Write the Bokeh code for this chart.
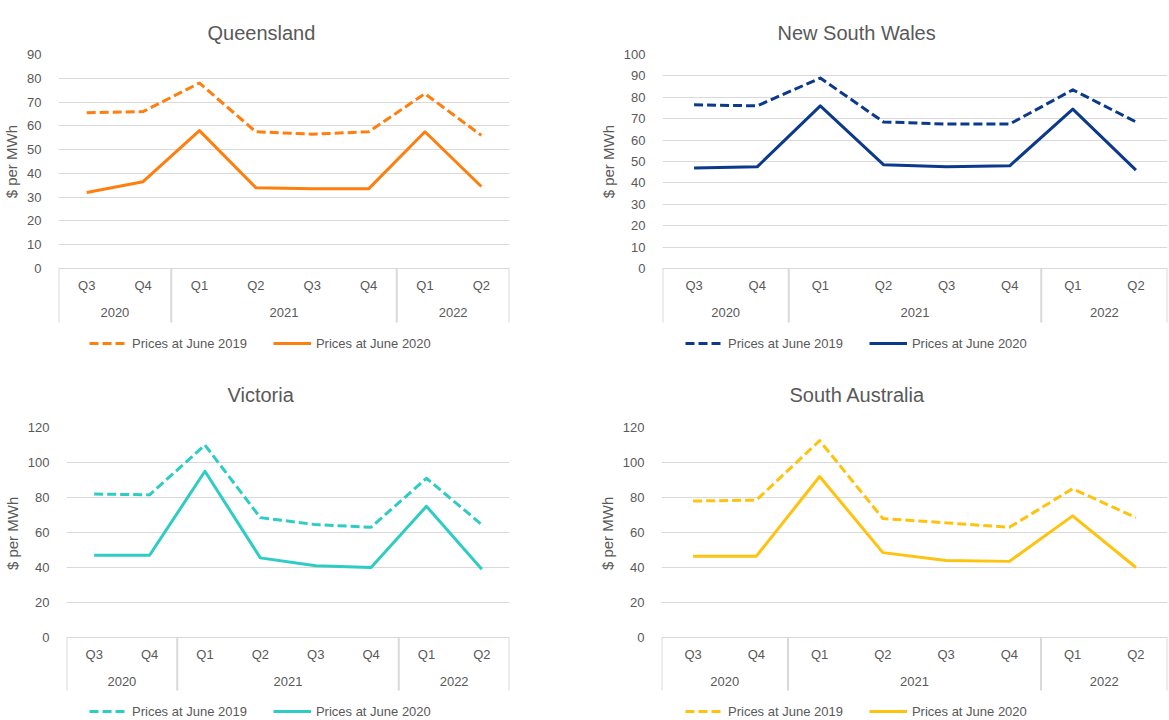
from bokeh.plotting import figure
from bokeh.models import Range1d, FixedTicker, Legend, LegendItem, ColumnDataSource
from bokeh.core.properties import value
from bokeh.layouts import column, row
from bokeh.embed import file_html
from bokeh.resources import INLINE

# ---- data ----
years = ["2020", "2020", "2021", "2021", "2021", "2021", "2022", "2022"]
quarters = ["Q3", "Q4", "Q1", "Q2", "Q3", "Q4", "Q1", "Q2"]

qld_2019 = [65.5, 66, 78, 57.5, 56.5, 57.5, 73.5, 56]
qld_2020 = [32, 36.5, 58, 34, 33.5, 33.5, 57.5, 34.5]
nsw_2019 = [76.5, 76, 89, 68.5, 67.5, 67.5, 83.5, 68.5]
nsw_2020 = [47, 47.5, 76, 48.5, 47.5, 48, 74.5, 46]
vic_2019 = [82, 81.5, 110, 68.5, 64.5, 63, 91, 64.5]
vic_2020 = [47, 47, 95, 45.5, 41, 40, 75, 39]
sa_2019 = [78, 78.5, 112.5, 68, 65.5, 63, 85, 68.5]
sa_2020 = [46.5, 46.5, 92, 48.5, 44, 43.5, 69.5, 40]

series_labels = ["Prices at June 2019", "Prices at June 2020"]
y_title = "$ per MWh"

FONT = "Liberation Sans"
TXT = "#595959"
GRID = "#d9d9d9"
NBSP_W = 0.278 * 15  # width of a no-break space at 15px


def make_panel(title, s19, s20, color, ymax, step, W, H, bl, br, bt,
               zero_px, q_px, yr_px, sep_px, leg_x, leg_y, title_off, title_so):
    n = len(quarters)
    frame_h = H - bt
    u = ymax / (frame_h - zero_px)      # data units per pixel (y)
    xs = [i + 0.5 for i in range(n)]

    # year groups from the data
    groups = []
    for i, y in enumerate(years):
        if groups and groups[-1][0] == y:
            groups[-1][1].append(i)
        else:
            groups.append([y, [i]])
    yr_x = [(g[1][0] + g[1][-1] + 1) / 2 for g in groups]
    bounds = [g[1][0] for g in groups] + [n]

    p = figure(width=W, height=H, x_range=Range1d(0, n),
               y_range=Range1d(-zero_px * u, ymax),
               min_border_left=bl, min_border_right=br,
               min_border_top=bt, min_border_bottom=0,
               x_axis_location=None, output_backend="svg",
               toolbar_location=None, title=title)
    p.outline_line_color = None
    p.title.align = "left"
    p.title.offset = title_off
    p.title.vertical_align = "top"
    p.title.standoff = title_so
    p.title.text_font = FONT
    p.title.text_font_size = "20px"
    p.title.text_font_style = "normal"
    p.title.text_color = TXT

    ticks = list(range(0, ymax + 1, step))
    ya = p.yaxis[0]
    ya.ticker = FixedTicker(ticks=ticks)
    ya.axis_line_color = None
    ya.major_tick_line_color = None
    ya.minor_tick_line_color = None
    ya.major_label_text_font = FONT
    ya.major_label_text_font_size = "13px"
    ya.major_label_text_color = TXT
    ya.major_label_standoff = 11
    # axis title, kept centred on the 0..max part of the frame
    pad = "\u00a0" * round(zero_px / NBSP_W)
    ya.axis_label = pad + y_title
    ya.axis_label_text_font = FONT
    ya.axis_label_text_font_size = "15px"
    ya.axis_label_text_font_style = "normal"
    ya.axis_label_text_color = TXT
    ya.axis_label_standoff = 4

    p.xgrid.grid_line_color = None
    p.ygrid.grid_line_color = GRID
    p.ygrid.grid_line_width = 1

    # category separators and labels
    p.segment(x0=bounds, y0=[0] * len(bounds), x1=bounds,
              y1=[-sep_px * u] * len(bounds), line_color=GRID, line_width=2)
    p.text(x=xs, y=[-q_px * u] * n, text=quarters, text_font=value(FONT),
           text_font_size="13px", text_color=TXT, text_align="center",
           text_baseline="middle")
    p.text(x=yr_x, y=[-yr_px * u] * len(yr_x), text=[g[0] for g in groups],
           text_font=value(FONT), text_font_size="13px", text_color=TXT,
           text_align="center", text_baseline="middle")

    src = ColumnDataSource(dict(x=xs, a=s19, b=s20))
    r1 = p.line(x="x", y="a", source=src, line_color=color, line_width=3,
                line_dash="9 4", line_join="round")
    r2 = p.line(x="x", y="b", source=src, line_color=color, line_width=3,
                line_join="round")

    legend = Legend(items=[LegendItem(label=series_labels[0], renderers=[r1]),
                           LegendItem(label=series_labels[1], renderers=[r2])],
                    orientation="horizontal", location=(leg_x, leg_y),
                    border_line_color=None, background_fill_alpha=0,
                    label_text_font=FONT, label_text_font_size="13px",
                    label_text_color=TXT, glyph_width=38, glyph_height=16,
                    label_height=16, label_standoff=5, spacing=26,
                    padding=0, margin=0)
    p.add_layout(legend)
    return p


p1 = make_panel("Queensland", qld_2019, qld_2020, "#FF7F0E", 90, 10, 585, 360,
                54, 76, 54, 92, 17, 44, 54, 31, 9, 149, 18)
p2 = make_panel("New South Wales", nsw_2019, nsw_2020, "#0B3A8C", 100, 10, 583, 360,
                77, 1, 54, 92, 17, 44, 54, 23, 9, 115, 18)
p3 = make_panel("Victoria", vic_2019, vic_2020, "#2DCCC4", 120, 20, 585, 358,
                62, 76, 67, 81, 17, 44, 53, 23, -1, 161, 40)
p4 = make_panel("South Australia", sa_2019, sa_2020, "#FFC20E", 120, 20, 583, 358,
                76, 1, 67, 81, 17, 44, 53, 24, -1, 128, 40)

layout = column(row(p1, p2), row(p3, p4))
open("out.html", "w").write(file_html(layout, INLINE))
